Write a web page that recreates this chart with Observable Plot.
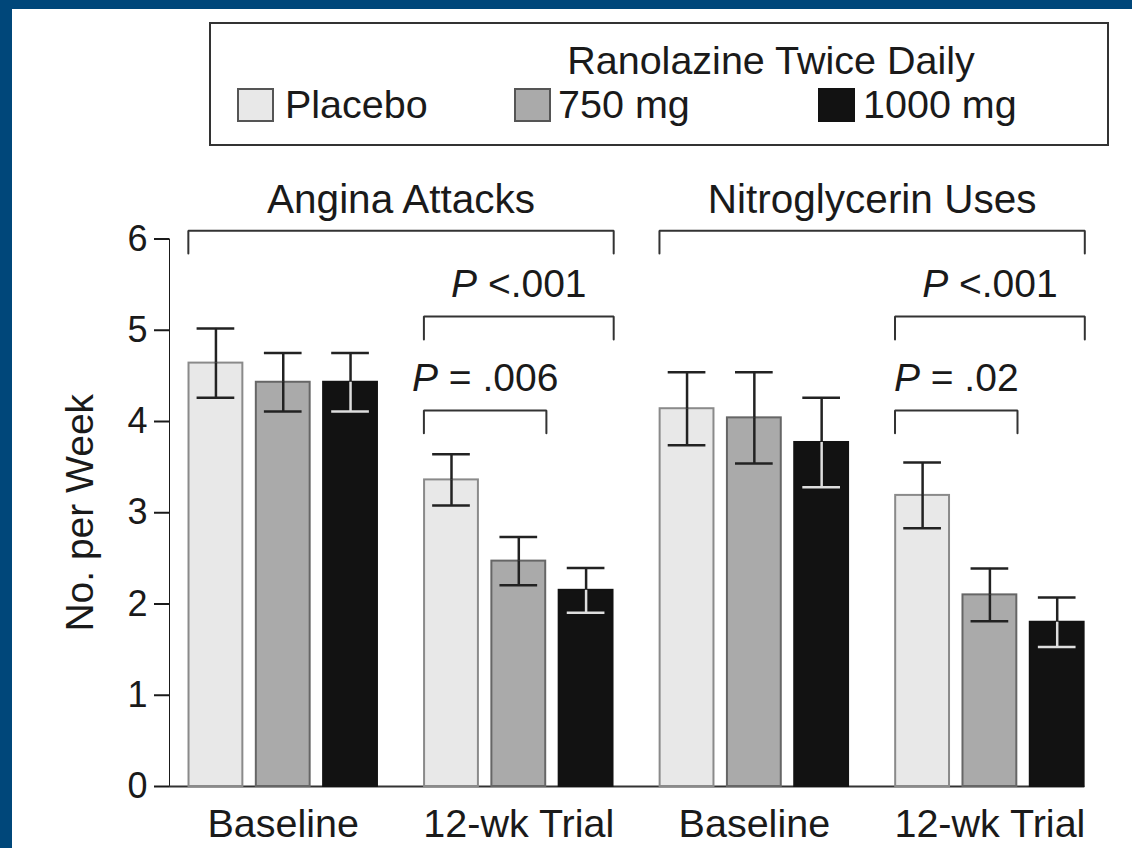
<!DOCTYPE html>
<html>
<head>
<meta charset="utf-8">
<script src="https://cdn.jsdelivr.net/npm/d3@7"></script>
<script src="https://cdn.jsdelivr.net/npm/@observablehq/plot@0.6"></script>
<style>
  html, body { margin: 0; padding: 0; }
  body { background: #00477a; width: 1132px; height: 848px; overflow: hidden; position: relative;
         font-family: "Liberation Sans", Arial, Helvetica, sans-serif; color: #1a1a1a; }
  #panel { position: absolute; left: 12px; top: 9px; width: 1120px; height: 839px; background: #fff; }
  #legend { position: absolute; left: 197px; top: 13px; width: 900px; height: 124px;
            box-sizing: border-box; border: 2px solid #333; }
  #legend .t { position: absolute; font-size: 39.5px; line-height: 40px; white-space: nowrap; }
  #legend .sw { position: absolute; top: 64px; width: 37px; height: 34px; box-sizing: border-box; border: 2px solid; }
  #chart { position: absolute; left: 0; top: 151px; }
  #chart g[aria-label^="y-axis"] line, #chart g[aria-label^="y-axis"] path { stroke-width: 2px; }
  #chart g[aria-label^="y-axis"] text { font-size: 36px; }
</style>
</head>
<body>
<div id="panel">
  <div id="legend"></div>
  <div id="chart"></div>
</div>
<script>
// Categories
const measures = ["Angina Attacks", "Nitroglycerin Uses"];
const periods = ["Baseline", "12-wk Trial"];
const doses = ["Placebo", "750 mg", "1000 mg"];
const legendTitle = "Ranolazine Twice Daily";
const yTicks = [0, 1, 2, 3, 4, 5, 6];

// Mean number per week (baseline Placebo, 750, 1000, then 12-wk Placebo, 750, 1000)
const anginaMeans = [4.64, 4.43, 4.43, 3.36, 2.47, 2.15];
const anginaErrors = [0.38, 0.32, 0.32, 0.28, 0.265, 0.245];
const nitroMeans = [4.14, 4.04, 3.77, 3.19, 2.10, 1.80];
const nitroErrors = [0.40, 0.50, 0.49, 0.36, 0.29, 0.27];

// Pairwise comparisons at 12 weeks: measure index, dose range, label
const comparisons = [
  {measure: 0, from: 0, to: 2, label: "P <.001"},
  {measure: 0, from: 0, to: 1, label: "P = .006"},
  {measure: 1, from: 0, to: 2, label: "P <.001"},
  {measure: 1, from: 0, to: 1, label: "P = .02"}
];

// Layout and styling
const groupStep = 3.5;       // distance between period groups, in bar slots
const barHalf = 0.40;
const capHalf = 0.28;
const fillOf = {"Placebo": "#e8e8e8", "750 mg": "#aaaaaa", "1000 mg": "#121212"};
const strokeOf = {"Placebo": "#8a8a8a", "750 mg": "#666666", "1000 mg": "#121212"};
const lowerErrOf = {"Placebo": "#222", "750 mg": "#222", "1000 mg": "#dedede"};
const ink = "#222";

const slot = (m, p, d) => (m * 2 + p) * groupStep + d;

const seriesMeans = [anginaMeans, nitroMeans];
const seriesErrors = [anginaErrors, nitroErrors];
const rows = [];
measures.forEach((measure, m) => periods.forEach((period, p) => doses.forEach((dose, d) => {
  const i = p * 3 + d;
  rows.push({measure, period, dose, slot: slot(m, p, d), mean: seriesMeans[m][i], se: seriesErrors[m][i]});
})));

// Group labels beneath the axis
const groupLabels = [];
measures.forEach((measure, m) => periods.forEach((period, p) => groupLabels.push({label: period, x: slot(m, p, 1)})));

// Brackets: one spanning each measure, plus the 12-week comparisons
const edge = barHalf + 0.01;
const topLevel = 6.09, titleLevel = 6.28;
const levelOf = c => c.to === 2 ? 5.15 : 4.12;
const labelLevelOf = c => c.to === 2 ? 5.36 : 4.33;
const drop = 0.25;
const titles = [];
const brackets = [];
measures.forEach((measure, m) => {
  const b = {id: "m" + m, x1: slot(m, 0, 0) - edge, x2: slot(m, 1, 2) + edge, y: topLevel,
             label: measure, labelY: titleLevel};
  brackets.push(b);
  titles.push(b);
});
const pBrackets = comparisons.map((c, i) => ({id: "c" + i, x1: slot(c.measure, 1, c.from) - edge,
  x2: slot(c.measure, 1, c.to) + edge, y: levelOf(c), label: c.label, labelY: labelLevelOf(c)}));
brackets.push(...pBrackets);
const bracketPts = brackets.flatMap(b => [
  {id: b.id, x: b.x1, y: b.y - drop}, {id: b.id, x: b.x1, y: b.y},
  {id: b.id, x: b.x2, y: b.y}, {id: b.id, x: b.x2, y: b.y - drop}
]);

const xLo = -barHalf - 0.29;
const xHi = slot(1, 1, 2) + edge;
const mid = b => (b.x1 + b.x2) / 2;

const chart = Plot.plot({
  width: 1120,
  height: 688,
  marginLeft: 157,
  marginRight: 47.7,
  marginTop: 78.5,
  marginBottom: 62,
  style: {fontFamily: "'Liberation Sans', Arial, Helvetica, sans-serif", fontSize: "38px", color: "#1a1a1a",
          background: "transparent", overflow: "visible"},
  x: {domain: [xLo, xHi], axis: null},
  y: {domain: [0, 6], ticks: yTicks, tickFormat: d3.format("d"), tickSize: 15, tickPadding: 7, line: true, label: null},
  color: {type: "identity"},
  marks: [
    Plot.ruleY([0], {stroke: "#333", strokeWidth: 2}),
    Plot.rect(rows, {x1: d => d.slot - barHalf, x2: d => d.slot + barHalf, y1: 0, y2: "mean",
                     fill: d => fillOf[d.dose], stroke: d => strokeOf[d.dose], strokeWidth: 2}),
    // error bars: upper half
    Plot.ruleX(rows, {x: "slot", y1: "mean", y2: d => d.mean + d.se, stroke: ink, strokeWidth: 2.5}),
    Plot.ruleY(rows, {y: d => d.mean + d.se, x1: d => d.slot - capHalf, x2: d => d.slot + capHalf,
                      stroke: ink, strokeWidth: 2.5}),
    // error bars: lower half (drawn light inside dark bars)
    Plot.ruleX(rows, {x: "slot", y1: d => d.mean - d.se, y2: "mean", stroke: d => lowerErrOf[d.dose], strokeWidth: 2.5}),
    Plot.ruleY(rows, {y: d => d.mean - d.se, x1: d => d.slot - capHalf, x2: d => d.slot + capHalf,
                      stroke: d => lowerErrOf[d.dose], strokeWidth: 2.5}),
    // brackets and their labels
    Plot.line(bracketPts, {x: "x", y: "y", z: "id", stroke: "#333", strokeWidth: 2, strokeLinejoin: "miter"}),
    Plot.text(titles, {x: mid, y: "labelY", text: "label", lineAnchor: "bottom", fontSize: 40.5, fill: "#1a1a1a"}),
    Plot.text(pBrackets, {x: mid, y: "labelY", text: "label", lineAnchor: "bottom", fontSize: 39, fill: "#1a1a1a"}),
    // period labels
    Plot.text(groupLabels, {x: "x", text: "label", frameAnchor: "bottom", lineAnchor: "bottom", dy: 50,
                            fontSize: 39.5, fill: "#1a1a1a"}),
    // y axis title
    Plot.text(["No. per Week"], {frameAnchor: "left", textAnchor: "middle", rotate: -90, dx: -89,
                                 fontSize: 39, fill: "#1a1a1a"})
  ]
});

// italicize the leading P of the significance labels
chart.querySelectorAll("text").forEach(t => {
  const s = t.textContent;
  if (/^P [<=]/.test(s)) {
    while (t.firstChild) t.removeChild(t.firstChild);
    const ns = "http://www.w3.org/2000/svg";
    const a = document.createElementNS(ns, "tspan");
    a.setAttribute("font-style", "italic");
    a.textContent = "P";
    const b = document.createElementNS(ns, "tspan");
    b.textContent = s.slice(1);
    t.appendChild(a); t.appendChild(b);
  }
});
document.getElementById("chart").appendChild(chart);

// legend
const legend = document.getElementById("legend");
const addText = (txt, left, top, center) => {
  const el = document.createElement("div");
  el.className = "t";
  el.textContent = txt;
  el.style.top = top + "px";
  el.style.left = left + "px";
  if (center) el.style.transform = "translateX(-50%)";
  legend.appendChild(el);
};
addText(legendTitle, 560, 16, true);
const swatchLeft = [26, 303, 607];
const textLeft = [74, 347, 652];
doses.forEach((dose, i) => {
  const sw = document.createElement("div");
  sw.className = "sw";
  sw.style.left = swatchLeft[i] + "px";
  sw.style.background = fillOf[dose];
  sw.style.borderColor = i === 2 ? "#121212" : "#555";
  legend.appendChild(sw);
  addText(dose, textLeft[i], 60, false);
});
</script>
</body>
</html>
